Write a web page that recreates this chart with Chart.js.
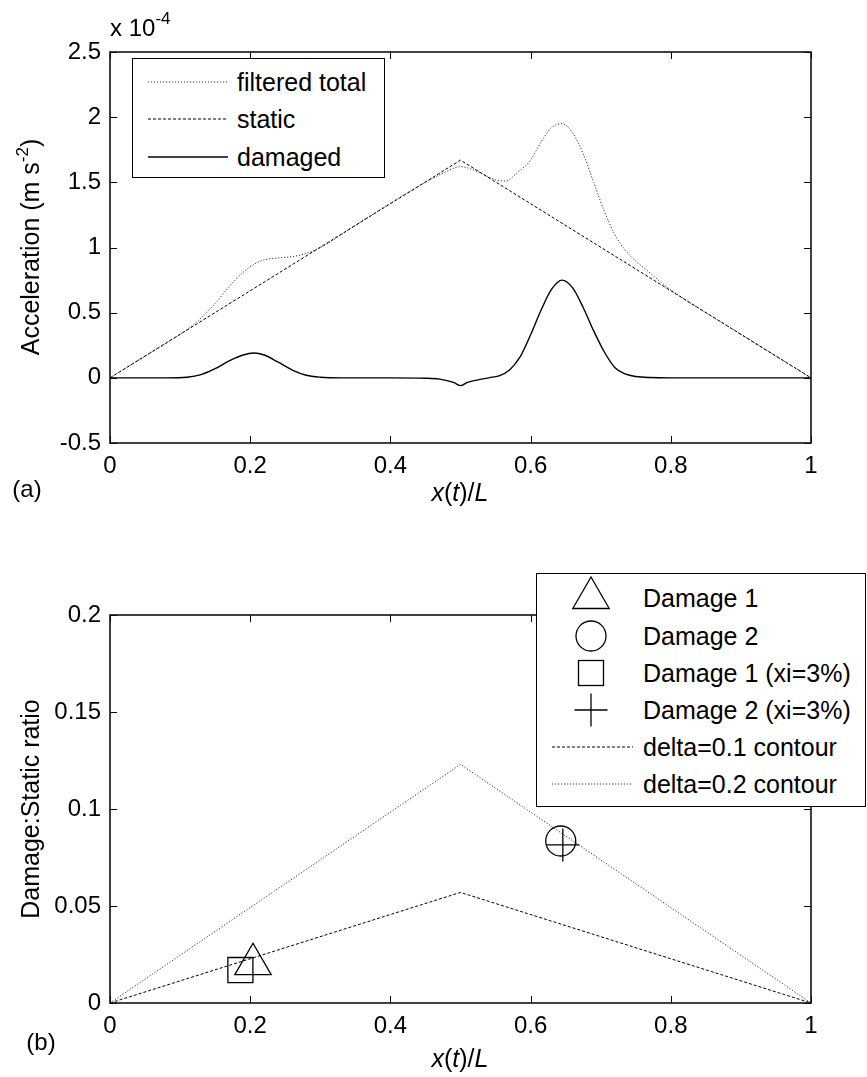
<!DOCTYPE html>
<html>
<head>
<meta charset="utf-8">
<script src="https://cdn.jsdelivr.net/npm/chart.js@4.4.1/dist/chart.umd.min.js"></script>
<style>
html,body{margin:0;padding:0;background:#fff;}
body{width:867px;height:1077px;position:relative;overflow:hidden;font-family:"Liberation Sans",Arial,Helvetica,sans-serif;color:#000;}
canvas{position:absolute;left:0;}
.t{position:absolute;white-space:nowrap;line-height:1;}
.c{transform:translate(-50%,-50%);}
.rot{transform:translate(-50%,-50%) rotate(-90deg);}
.lg{position:absolute;background:#fff;border:1.5px solid #000;box-sizing:border-box;z-index:2;}
.lt{position:absolute;white-space:nowrap;line-height:1;font-size:25px;transform:translateY(-50%);}
sup{font-size:17px;vertical-align:0;position:relative;top:-12px;}
svg{position:absolute;left:0;top:0;overflow:visible;}
</style>
</head>
<body>
<canvas id="cTop" width="867" height="530" style="top:0"></canvas>
<canvas id="cBot" width="867" height="547" style="top:530px"></canvas>

<!-- top panel texts -->
<div class="t" style="left:110px;top:16px;font-size:24px;">x 10<sup>-4</sup></div>
<div class="t rot" style="left:30px;top:247px;font-size:25px;">Acceleration (m s<sup style="top:-11px">-2</sup>)</div>
<div class="t c" style="left:460px;top:492px;font-size:25px;"><i>x</i>(<i>t</i>)/<i>L</i></div>
<div class="t c" style="left:27px;top:489px;font-size:24px;">(a)</div>

<!-- bottom panel texts -->
<div class="t rot" style="left:30px;top:809px;font-size:25px;">Damage:Static ratio</div>
<div class="t c" style="left:460px;top:1058px;font-size:25px;"><i>x</i>(<i>t</i>)/<i>L</i></div>
<div class="t c" style="left:41px;top:1042px;font-size:24px;">(b)</div>

<!-- top legend -->
<div class="lg" style="left:132px;top:58px;width:253px;height:120px;">
  <svg width="253" height="120">
    <line x1="15" y1="23" x2="95" y2="23" stroke="#333" stroke-width="1" stroke-dasharray="1.2 1.8"/>
    <line x1="15" y1="60" x2="95" y2="60" stroke="#000" stroke-width="1" stroke-dasharray="3 2"/>
    <line x1="15" y1="98" x2="95" y2="98" stroke="#000" stroke-width="1.4"/>
  </svg>
  <div class="lt" style="left:104px;top:23px;">filtered total</div>
  <div class="lt" style="left:104px;top:60px;">static</div>
  <div class="lt" style="left:104px;top:98px;">damaged</div>
</div>

<!-- bottom legend -->
<div class="lg" style="left:536px;top:573px;width:330px;height:234px;">
  <svg width="330" height="234">
    <polygon points="54,3 35.8,34.5 72.2,34.5" fill="none" stroke="#000" stroke-width="1.3"/>
    <circle cx="54" cy="62" r="15" fill="none" stroke="#000" stroke-width="1.3"/>
    <rect x="41.5" y="86.5" width="25" height="25" fill="none" stroke="#000" stroke-width="1.3"/>
    <line x1="37.5" y1="136" x2="70.5" y2="136" stroke="#000" stroke-width="1.3"/>
    <line x1="54" y1="119.5" x2="54" y2="152.5" stroke="#000" stroke-width="1.3"/>
    <line x1="15" y1="173" x2="96" y2="173" stroke="#000" stroke-width="1" stroke-dasharray="3 2"/>
    <line x1="15" y1="210" x2="96" y2="210" stroke="#333" stroke-width="1" stroke-dasharray="1.2 1.8"/>
  </svg>
  <div class="lt" style="left:106px;top:24px;">Damage 1</div>
  <div class="lt" style="left:106px;top:62px;">Damage 2</div>
  <div class="lt" style="left:106px;top:99px;">Damage 1 (xi=3%)</div>
  <div class="lt" style="left:106px;top:136px;">Damage 2 (xi=3%)</div>
  <div class="lt" style="left:106px;top:173px;">delta=0.1 contour</div>
  <div class="lt" style="left:106px;top:210px;">delta=0.2 contour</div>
</div>

<script>
// ---------- DATA (top panel, acceleration in units of 1e-4 m s^-2) ----------
const xTickVals = [0, 0.2, 0.4, 0.6, 0.8, 1];
const xTickLabels = ['0', '0.2', '0.4', '0.6', '0.8', '1'];
const yTopTickVals = [-0.5, 0, 0.5, 1, 1.5, 2, 2.5];
const yTopTickLabels = ['-0.5', '0', '0.5', '1', '1.5', '2', '2.5'];

const staticX = [0, 0.5, 1];
const staticY = [0, 1.67, 0];

const filteredX = [0, 0.05, 0.1, 0.115, 0.13, 0.15, 0.17, 0.19, 0.205, 0.22, 0.24, 0.26, 0.28, 0.3, 0.35, 0.4, 0.45, 0.475, 0.5, 0.525, 0.55, 0.565, 0.58, 0.6, 0.615, 0.63, 0.645, 0.66, 0.675, 0.69, 0.705, 0.72, 0.735, 0.75, 0.765, 0.78, 0.8, 0.9, 1];
const filteredY = [0, 0.167, 0.334, 0.39, 0.46, 0.57, 0.70, 0.81, 0.87, 0.905, 0.92, 0.93, 0.955, 1.0, 1.17, 1.34, 1.50, 1.57, 1.62, 1.58, 1.52, 1.51, 1.57, 1.67, 1.81, 1.92, 1.95, 1.88, 1.72, 1.50, 1.28, 1.10, 0.98, 0.895, 0.83, 0.76, 0.675, 0.334, 0];

const damagedX = [0, 0.08, 0.11, 0.13, 0.15, 0.17, 0.19, 0.205, 0.22, 0.24, 0.26, 0.28, 0.3, 0.33, 0.4, 0.45, 0.47, 0.49, 0.5, 0.51, 0.53, 0.545, 0.555, 0.57, 0.585, 0.6, 0.615, 0.63, 0.645, 0.66, 0.675, 0.69, 0.705, 0.72, 0.735, 0.75, 0.77, 0.8, 1];
const damagedY = [0, 0, 0.005, 0.025, 0.07, 0.13, 0.175, 0.19, 0.175, 0.12, 0.06, 0.02, 0.005, 0, 0, -0.003, -0.01, -0.035, -0.06, -0.035, -0.01, 0.005, 0.015, 0.06, 0.16, 0.33, 0.52, 0.68, 0.75, 0.69, 0.54, 0.36, 0.2, 0.08, 0.03, 0.01, 0.002, 0, 0];

// ---------- DATA (bottom panel) ----------
const yBotTickVals = [0, 0.05, 0.1, 0.15, 0.2];
const yBotTickLabels = ['0', '0.05', '0.1', '0.15', '0.2'];

const contourX = [0, 0.5, 1];
const contour01 = [0, 0.057, 0];
const contour02 = [0, 0.123, 0];

const damage1 = [0.204, 0.020];
const damage2 = [0.643, 0.0835];
const damage1xi = [0.186, 0.017];
const damage2xi = [0.646, 0.0815];

// ---------- helpers ----------
const FAMILY = '"Liberation Sans", Arial, Helvetica, sans-serif';
const pts = (xs, ys) => xs.map((x, i) => ({x: x, y: ys[i]}));

const framePlugin = {
  id: 'matlabFrame',
  afterDatasetsDraw(chart) {
    const {ctx, chartArea: a, scales} = chart;
    const sx = scales.x, sy = scales.y;
    const L = 7;
    ctx.save();
    ctx.strokeStyle = '#000';
    ctx.lineWidth = 1;
    ctx.beginPath();
    sx.ticks.forEach(t => {
      const p = Math.round(sx.getPixelForValue(t.value)) + 0.5;
      ctx.moveTo(p, a.bottom); ctx.lineTo(p, a.bottom - L);
      ctx.moveTo(p, a.top); ctx.lineTo(p, a.top + L);
    });
    sy.ticks.forEach(t => {
      const p = Math.round(sy.getPixelForValue(t.value)) + 0.5;
      ctx.moveTo(a.left, p); ctx.lineTo(a.left + L, p);
      ctx.moveTo(a.right, p); ctx.lineTo(a.right - L, p);
    });
    ctx.stroke();
    ctx.lineWidth = 1.6;
    ctx.strokeStyle = '#111';
    ctx.strokeRect(a.left, a.top, a.right - a.left, a.bottom - a.top);
    ctx.restore();
  }
};

function xScale(height) {
  return {
    type: 'linear', min: 0, max: 1,
    afterBuildTicks: s => { s.ticks = xTickVals.map(v => ({value: v})); },
    ticks: {
      callback: (v, i) => xTickLabels[i],
      font: {size: 24, family: FAMILY}, color: '#000', padding: 9,
      maxRotation: 0, autoSkip: false
    },
    grid: {display: false, drawTicks: false},
    border: {display: false},
    afterFit: s => { s.height = height; }
  };
}
function yScale(min, max, vals, labels) {
  return {
    type: 'linear', min: min, max: max,
    afterBuildTicks: s => { s.ticks = vals.map(v => ({value: v})); },
    ticks: {
      callback: (v, i) => labels[i],
      font: {size: 24, family: FAMILY}, color: '#000', padding: 9,
      autoSkip: false
    },
    grid: {display: false, drawTicks: false},
    border: {display: false},
    afterFit: s => { s.width = 110; }
  };
}

const common = {
  responsive: false, animation: false, devicePixelRatio: 1,
  plugins: {legend: {display: false}, tooltip: {enabled: false}},
  elements: {line: {fill: false}}
};

new Chart(document.getElementById('cTop'), {
  type: 'line',
  data: {datasets: [
    {label: 'damaged', data: pts(damagedX, damagedY), borderColor: '#000', borderWidth: 1.4,
     pointRadius: 0, cubicInterpolationMode: 'monotone'},
    {label: 'static', data: pts(staticX, staticY), borderColor: '#000', borderWidth: 1,
     borderDash: [3, 2], pointRadius: 0, tension: 0},
    {label: 'filtered total', data: pts(filteredX, filteredY), borderColor: '#333', borderWidth: 1,
     borderDash: [1.2, 1.8], pointRadius: 0, cubicInterpolationMode: 'monotone'}
  ]},
  options: Object.assign({}, common, {
    layout: {padding: {top: 52, right: 56, left: 0, bottom: 0}},
    scales: {x: xScale(530 - 443), y: yScale(-0.5, 2.5, yTopTickVals, yTopTickLabels)}
  }),
  plugins: [framePlugin]
});

const mk = (label, p, style, r) => ({
  label: label, data: [{x: p[0], y: p[1]}], showLine: false,
  pointStyle: style, pointRadius: r, pointBorderWidth: 1.3,
  pointBorderColor: '#000', pointBackgroundColor: 'rgba(0,0,0,0)',
  borderColor: '#000', backgroundColor: 'rgba(0,0,0,0)'
});

new Chart(document.getElementById('cBot'), {
  type: 'line',
  data: {datasets: [
    mk('Damage 1', damage1, 'triangle', 21),
    mk('Damage 2', damage2, 'circle', 15),
    mk('Damage 1 (xi=3%)', damage1xi, 'rect', 17.7),
    mk('Damage 2 (xi=3%)', damage2xi, 'cross', 16.5),
    {label: 'delta=0.1 contour', data: pts(contourX, contour01), borderColor: '#000', borderWidth: 1,
     borderDash: [3, 2], pointRadius: 0, tension: 0},
    {label: 'delta=0.2 contour', data: pts(contourX, contour02), borderColor: '#333', borderWidth: 1,
     borderDash: [1.2, 1.8], pointRadius: 0, tension: 0}
  ]},
  options: Object.assign({}, common, {
    layout: {padding: {top: 615 - 530, right: 56, left: 0, bottom: 0}},
    scales: {x: xScale(1077 - 1003), y: yScale(0, 0.2, yBotTickVals, yBotTickLabels)}
  }),
  plugins: [framePlugin]
});
</script>
</body>
</html>
